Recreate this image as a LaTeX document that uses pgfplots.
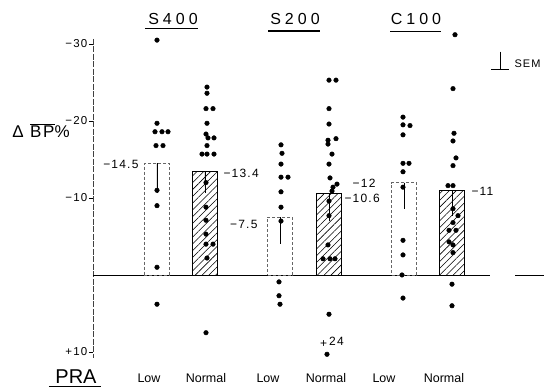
\documentclass[border=0pt]{standalone}
\usepackage{fontspec}
\setmainfont{Liberation Sans}
\newfontfamily\wide[LetterSpace=25]{Liberation Sans}
\newfontfamily\semiwide[LetterSpace=10]{Liberation Sans}
\usepackage{pgfplots}
\pgfplotsset{compat=1.18}
\usetikzlibrary{patterns.meta}
\pgfplotstableread{
x y
157 -30.5
157 -19.7
155 -18.6
162 -18.6
168 -18.6
156 -16.8
163 -16.8
157 -11.0
157 -9.0
157 -1.0
157 3.8
207 -24.4
207 -23.6
206 -21.6
213 -21.6
207 -19.7
206 -18.3
208 -17.8
214 -17.8
207 -16.8
202 -15.7
207 -15.7
214 -15.7
206 -12.0
206 -8.8
206 -7.1
206 -5.3
206 -4.0
213 -4.0
207 -2.2
206 7.5
281 -16.9
282 -15.8
281 -14.4
281 -12.7
288 -12.7
281 -10.8
281 -8.8
281 -7.0
279 0.9
279 2.7
280 3.8
329 -25.3
336 -25.3
329 -21.6
329 -19.6
328 -17.5
336 -17.7
328 -17.0
332 -15.7
329 -14.4
330 -12.6
337 -11.8
333 -11.4
332 -10.9
329 -9.6
329 -7.7
328 -3.9
323 -2.1
330 -2.1
335 -2.1
329 5.1
327 10.3
403 -20.5
403 -19.5
410 -19.4
403 -18.2
403 -14.5
409 -14.5
403 -13.4
403 -11.4
403 -4.5
403 -2.6
402 0
403 3.0
455 -31.2
453 -24.2
454 -18.4
453 -17.4
456 -15.2
453 -14.2
448 -11.6
453 -11.6
453 -8.6
458 -7.7
453 -6.8
449 -5.8
456 -5.8
449 -4.3
453 -3.9
453 -2.9
452 1.2
452 4.0
}\dots
\begin{document}
\begin{tikzpicture}
\begin{axis}[
  scale only axis, width=447pt, height=319pt,
  xmin=93, xmax=540, ymin=-30.65, ymax=10.78, y dir=reverse,
  clip=false,
  hide x axis,
  axis y line=left,
  y axis line style={-, black!75, line width=0.6pt, dash pattern=on 6pt off 1.5pt},
  ytick={-30,-20,-10,10},
  yticklabels={−30,−20,−10,+10},
  yticklabel style={font=\semiwide\fontsize{11.5}{11.5}\selectfont, inner xsep=1.5pt},
  tick align=outside, major tick length=4pt,
  tick style={black, line width=0.6pt},
]
\coordinate (BL) at (axis cs:0,14.80);
\coordinate (TR) at (axis cs:544,-35.71);
% zero line
\addplot[black, line width=0.7pt] coordinates {(93,0) (490,0)};
\addplot[black, line width=0.7pt] coordinates {(515,0) (544,0)};
% low PRA bars (open)
\addplot[ybar, bar width=25pt, bar shift=0pt, fill=white, draw=black!60, densely dashed, line width=0.6pt,
  error bars/.cd, y dir=plus, y explicit,
  error bar style={solid, black, line width=0.6pt},
  error mark options={mark size=6pt, solid, black, line width=0.6pt}]
  coordinates {(157,-14.5) +- (0,3.1) (280,-7.5) +- (0,2.7) (404,-12) +- (0,2.6)};
% normal PRA bars (hatched)
\addplot[ybar, bar width=25pt, bar shift=0pt, draw=black, line width=0.7pt,
  pattern={Lines[angle=45, distance=4.8pt, line width=0.55pt]},
  error bars/.cd, y dir=plus, y explicit,
  error bar style={solid, black, line width=0.6pt},
  error mark options={mark size=6pt, solid, black, line width=0.6pt}]
  coordinates {(205,-13.4) +- (0,2.0) (329,-10.6) +- (0,2.8) (452,-11) +- (0,2.5)};
% individual values
\addplot[only marks, mark=*, mark size=2.3pt, black] table[x=x, y=y] \dots;
% bar value labels
\node[anchor=east, font=\semiwide\fontsize{12}{12}\selectfont] at (axis cs:142,-14.4) {−14.5};
\node[anchor=west, font=\semiwide\fontsize{12}{12}\selectfont] at (axis cs:220,-13.2) {−13.4};
\node[anchor=east, font=\semiwide\fontsize{12}{12}\selectfont] at (axis cs:261,-6.6) {−7.5};
\node[anchor=west, font=\semiwide\fontsize{12}{12}\selectfont] at (axis cs:341,-10.0) {−10.6};
\node[anchor=east, font=\semiwide\fontsize{12}{12}\selectfont] at (axis cs:379,-11.9) {−12};
\node[anchor=west, font=\semiwide\fontsize{12}{12}\selectfont] at (axis cs:468,-10.8) {−11};
\node[font=\semiwide\fontsize{12}{12}\selectfont] at (axis cs:332,8.8) {+\,\raisebox{2pt}{24}};
% group titles
\node[font=\wide\fontsize{16}{16}\selectfont] (t1) at (axis cs:173,-33.25) {S400};
\node[font=\wide\fontsize{16}{16}\selectfont] (t2) at (axis cs:295,-33.25) {S200};
\node[font=\wide\fontsize{16}{16}\selectfont] (t3) at (axis cs:416,-33.25) {C100};
\draw[line width=1.3pt] (axis cs:145,-32.0) -- (axis cs:198,-32.0);
\draw[line width=1.3pt] (axis cs:268,-31.7) -- (axis cs:320,-31.7);
\draw[line width=1.3pt] (axis cs:390,-31.6) -- (axis cs:441,-31.6);
% y label
\node[font=\semiwide\fontsize{17}{17}\selectfont] at (axis cs:41,-18.8) {Δ $\overline{\mbox{BP}}$\%};
% SEM key
\draw[line width=0.7pt] (axis cs:500,-29.0) -- (axis cs:500,-26.75);
\draw[line width=0.7pt] (axis cs:491,-26.75) -- (axis cs:509,-26.75);
\node[anchor=west, font=\semiwide\fontsize{11}{11}\selectfont] at (axis cs:511,-27.4) {SEM};
% category labels
\node[font=\fontsize{12.5}{12.5}\selectfont] at (axis cs:149,13.4) {Low};
\node[font=\fontsize{12.5}{12.5}\selectfont] at (axis cs:206,13.4) {Normal};
\node[font=\fontsize{12.5}{12.5}\selectfont] at (axis cs:268,13.4) {Low};
\node[font=\fontsize{12.5}{12.5}\selectfont] at (axis cs:326,13.4) {Normal};
\node[font=\fontsize{12.5}{12.5}\selectfont] at (axis cs:384,13.4) {Low};
\node[font=\fontsize{12.5}{12.5}\selectfont] at (axis cs:444,13.4) {Normal};
\node[font=\fontsize{20}{20}\selectfont] at (axis cs:76,13.15) {PRA};
\draw[line width=1.3pt] (axis cs:49,14.5) -- (axis cs:101,14.5);
\end{axis}
\pgfresetboundingbox
\path (BL) rectangle (TR);
\end{tikzpicture}
\end{document}
